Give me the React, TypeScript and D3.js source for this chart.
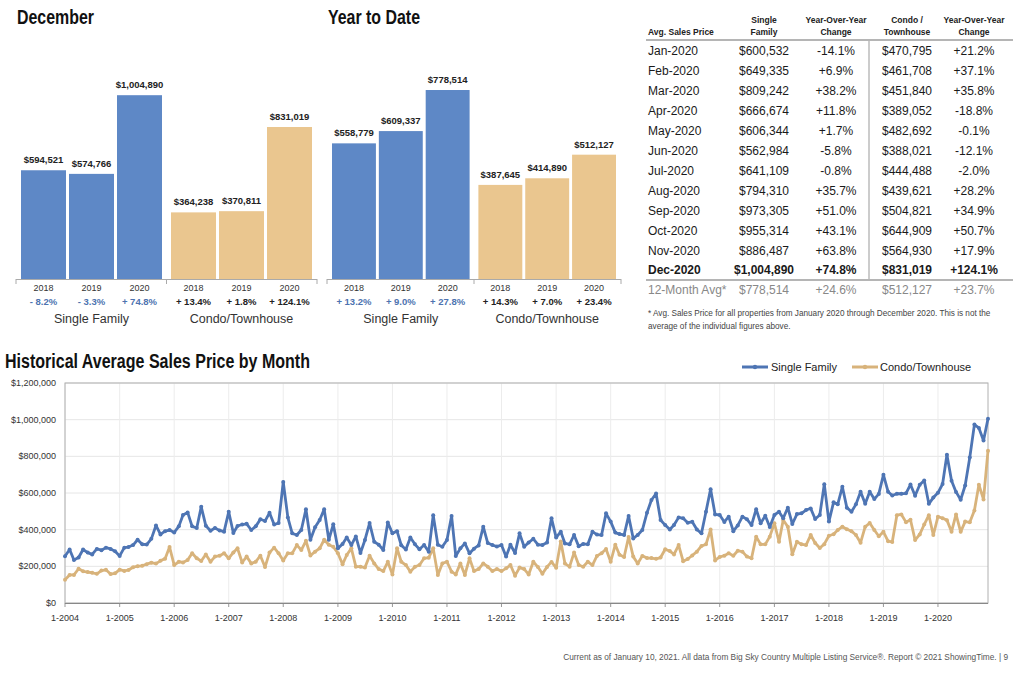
import React from 'react';
import * as d3 from 'd3';

// ---- bar panels ----
const years = ['2018', '2019', '2020'];
const groups = ['Single Family', 'Condo/Townhouse'];

const decSingle = [594521, 574766, 1004890];
const decCondo = [364238, 370811, 831019];
const decSingleChg = ['- 8.2%', '- 3.3%', '+ 74.8%'];
const decCondoChg = ['+ 13.4%', '+ 1.8%', '+ 124.1%'];

const ytdSingle = [558779, 609337, 778514];
const ytdCondo = [387645, 414890, 512127];
const ytdSingleChg = ['+ 13.2%', '+ 9.0%', '+ 27.8%'];
const ytdCondoChg = ['+ 14.3%', '+ 7.0%', '+ 23.4%'];

// ---- table ----
const tableMonths = ['Jan-2020', 'Feb-2020', 'Mar-2020', 'Apr-2020', 'May-2020', 'Jun-2020',
  'Jul-2020', 'Aug-2020', 'Sep-2020', 'Oct-2020', 'Nov-2020', 'Dec-2020'];
const tableSingle = [600532, 649335, 809242, 666674, 606344, 562984, 641109, 794310, 973305, 955314, 886487, 1004890];
const tableSingleChg = ['-14.1%', '+6.9%', '+38.2%', '+11.8%', '+1.7%', '-5.8%', '-0.8%', '+35.7%', '+51.0%', '+43.1%', '+63.8%', '+74.8%'];
const tableCondo = [470795, 461708, 451840, 389052, 482692, 388021, 444488, 439621, 504821, 644909, 564930, 831019];
const tableCondoChg = ['+21.2%', '+37.1%', '+35.8%', '-18.8%', '-0.1%', '-12.1%', '-2.0%', '+28.2%', '+34.9%', '+50.7%', '+17.9%', '+124.1%'];
const avgRow = ['12-Month Avg*', 778514, '+24.6%', 512127, '+23.7%'];

// ---- historical monthly averages, $ thousands, Jan-2004 .. Dec-2020 ----
const histSingle = [
  255, 292, 235, 248, 292, 275, 265, 295, 288, 302, 295, 282,
  257, 302, 305, 316, 345, 320, 319, 350, 423, 374, 392, 398,
  385, 418, 480, 494, 418, 409, 525, 421, 394, 409, 396, 389,
  498, 382, 420, 428, 432, 398, 418, 457, 447, 492, 428, 436,
  660, 466, 380, 371, 398, 511, 345, 413, 453, 511, 345, 429,
  298, 322, 357, 316, 363, 273, 344, 436, 334, 318, 289, 439,
  380, 392, 315, 292, 357, 320, 293, 316, 280, 479, 318, 307,
  344, 475, 256, 298, 325, 271, 296, 314, 416, 327, 316, 308,
  316, 253, 318, 273, 380, 307, 330, 350, 318, 316, 330, 462,
  357, 389, 325, 320, 371, 309, 322, 320, 389, 373, 371, 489,
  444, 384, 376, 371, 475, 352, 371, 398, 492, 562, 597, 453,
  425, 401, 425, 467, 462, 438, 443, 401, 380, 498, 621, 483,
  480, 442, 471, 392, 423, 471, 457, 425, 512, 435, 476, 415,
  480, 498, 462, 520, 431, 485, 489, 507, 516, 458, 480, 648,
  444, 549, 538, 634, 520, 498, 538, 607, 542, 607, 567, 595,
  699, 607, 586, 596, 596, 598, 646, 585, 645, 668, 541, 575,
  601, 649, 809, 667, 606, 563, 641, 794, 973, 955, 886, 1005,
];
const histCondo = [
  127, 153, 153, 187, 173, 169, 165, 159, 177, 181, 158, 162,
  182, 175, 180, 195, 201, 203, 212, 220, 215, 230, 242, 305,
  207, 225, 221, 234, 271, 244, 229, 265, 225, 253, 258, 271,
  244, 276, 298, 221, 253, 216, 225, 258, 196, 275, 302, 271,
  232, 271, 271, 316, 289, 339, 259, 280, 298, 345, 318, 307,
  271, 211, 262, 298, 198, 198, 193, 258, 216, 185, 174, 225,
  156, 298, 225, 207, 171, 198, 207, 244, 247, 298, 153, 216,
  225, 171, 156, 216, 153, 244, 174, 185, 216, 198, 174, 185,
  174, 189, 207, 149, 193, 185, 156, 225, 196, 159, 197, 224,
  192, 336, 215, 198, 275, 207, 198, 225, 207, 257, 271, 294,
  225, 318, 263, 251, 360, 253, 216, 257, 245, 245, 241, 248,
  293, 283, 265, 316, 228, 240, 259, 280, 311, 320, 401, 232,
  251, 258, 271, 258, 285, 280, 253, 244, 362, 320, 320, 362,
  435, 334, 453, 416, 266, 334, 321, 316, 371, 327, 300, 321,
  367, 375, 398, 416, 402, 392, 371, 329, 416, 436, 398, 364,
  388, 337, 333, 479, 483, 441, 454, 343, 374, 428, 479, 371,
  471, 462, 452, 389, 483, 388, 444, 440, 505, 645, 565, 831,
];

const FONT = "'Liberation Sans', Arial, Helvetica, sans-serif";
const TITLE_FONT = "'Liberation Sans Narrow', 'Liberation Sans', Arial, sans-serif";
const BLUE_BAR = '#5E88C6';
const TAN_BAR = '#EAC68F';
const BLUE = '#4E75B4';
const TAN = '#D8B37B';
const money = d3.format('$,.0f');

// condensed bold heading: the narrow face is squeezed to the width it has in the report
const Title = ({ x, y, width, children }: { x: number; y: number; width: number; children: string }) => (
  <text x={x} y={y} fontFamily={TITLE_FONT} fontWeight="bold" fontSize={20} fill="#111"
    textLength={width} lengthAdjust="spacingAndGlyphs">{children}</text>
);

interface PanelProps {
  title: string;
  titleX: number;
  titleW: number;
  x0: number;
  x1: number;
  yMax: number;
  yTop: number;
  single: number[];
  condo: number[];
  singleChg: string[];
  condoChg: string[];
}

const BarPanel = ({ title, titleX, titleW, x0, x1, yMax, yTop, single, condo, singleChg, condoChg }: PanelProps) => {
  const base = 279;
  const gx = d3.scaleBand().domain(groups).range([x0, x1]).paddingInner(0.06);
  const ix = d3.scaleBand().domain(years).range([0, gx.bandwidth()]).paddingInner(0.0625);
  const y = d3.scaleLinear().domain([0, yMax]).range([base, yTop]);
  const series = [
    { g: groups[0], vals: single, chg: singleChg, fill: BLUE_BAR, chgFill: '#4D73B0' },
    { g: groups[1], vals: condo, chg: condoChg, fill: TAN_BAR, chgFill: '#222' },
  ];
  const mid = (gx(groups[0])! + gx.bandwidth() + gx(groups[1])!) / 2;
  return (
    <g>
      <Title x={titleX} y={24} width={titleW}>{title}</Title>
      {series.map((s) => (
        <g key={s.g}>
          {years.map((yr, i) => {
            const bx = gx(s.g)! + ix(yr)!;
            const cx = bx + ix.bandwidth() / 2;
            return (
              <g key={yr}>
                <rect x={bx} y={y(s.vals[i])} width={ix.bandwidth()} height={base - y(s.vals[i])} fill={s.fill} />
                <text x={cx} y={y(s.vals[i]) - 7} textAnchor="middle" fontSize={9.5} fontWeight="bold" fill="#222">{money(s.vals[i])}</text>
                <text x={cx} y={290.5} textAnchor="middle" fontSize={9} fill="#333">{yr}</text>
                <text x={cx} y={304.5} textAnchor="middle" fontSize={9.5} fontWeight="bold" fill={s.chgFill}>{s.chg[i]}</text>
              </g>
            );
          })}
          <text x={gx(s.g)! + gx.bandwidth() / 2} y={323} textAnchor="middle" fontSize={12.5} fill="#333">{s.g}</text>
        </g>
      ))}
      <line x1={x0 - 5} x2={x1 + 5} y1={base + 0.5} y2={base + 0.5} stroke="#aaa" />
      {[x0 - 5, mid, x1 + 5].map((t) => (
        <line key={t} x1={t} x2={t} y1={base} y2={base + 5} stroke="#aaa" />
      ))}
    </g>
  );
};

const SalesTable = () => {
  const rowY = (i: number) => 50.7 + i * 19.95;
  const cols = [764, 836, 907, 974];
  return (
    <g fontFamily={FONT}>
      <g fontSize={8.5} fontWeight="bold" fill="#222">
        <text x={648} y={35}>Avg. Sales Price</text>
        <text x={cols[0]} y={23} textAnchor="middle">Single</text>
        <text x={cols[0]} y={35} textAnchor="middle">Family</text>
        <text x={cols[1]} y={23} textAnchor="middle">Year-Over-Year</text>
        <text x={cols[1]} y={35} textAnchor="middle">Change</text>
        <text x={cols[2]} y={23} textAnchor="middle">Condo /</text>
        <text x={cols[2]} y={35} textAnchor="middle">Townhouse</text>
        <text x={cols[3]} y={23} textAnchor="middle">Year-Over-Year</text>
        <text x={cols[3]} y={35} textAnchor="middle">Change</text>
      </g>
      <line x1={646} x2={1013} y1={40} y2={40} stroke="#b5b5b5" strokeWidth={2} />
      <line x1={869} x2={869} y1={41} y2={279} stroke="#999" />
      {tableMonths.map((m, i) => {
        const bold = i === tableMonths.length - 1 ? 'bold' : 'normal';
        const yy = rowY(i) + 4.3;
        return (
          <g key={m} fontSize={12} fill="#1a1a1a" fontWeight={bold}>
            <text x={648} y={yy}>{m}</text>
            <text x={cols[0]} y={yy} textAnchor="middle">{money(tableSingle[i])}</text>
            <text x={cols[1]} y={yy} textAnchor="middle">{tableSingleChg[i]}</text>
            <text x={cols[2]} y={yy} textAnchor="middle">{money(tableCondo[i])}</text>
            <text x={cols[3]} y={yy} textAnchor="middle">{tableCondoChg[i]}</text>
          </g>
        );
      })}
      <line x1={646} x2={1013} y1={280} y2={280} stroke="#b5b5b5" strokeWidth={2} />
      <g fontSize={12} fill="#888">
        <text x={648} y={294.3}>{avgRow[0]}</text>
        <text x={cols[0]} y={294.3} textAnchor="middle">{money(avgRow[1] as number)}</text>
        <text x={cols[1]} y={294.3} textAnchor="middle">{avgRow[2]}</text>
        <text x={cols[2]} y={294.3} textAnchor="middle">{money(avgRow[3] as number)}</text>
        <text x={cols[3]} y={294.3} textAnchor="middle">{avgRow[4]}</text>
      </g>
      <g fontSize={8.2} fill="#444">
        <text x={648} y={316}>* Avg. Sales Price for all properties from January 2020 through December 2020. This is not the</text>
        <text x={648} y={329}>average of the individual figures above.</text>
      </g>
    </g>
  );
};

const HistoryChart = () => {
  const months = d3.range(histSingle.length).map((i) => new Date(2004, i, 1));
  const x = d3.scaleTime().domain([months[0], months[months.length - 1]]).range([65, 988]);
  const y = d3.scaleLinear().domain([0, 1200000]).range([603, 383]);
  const yTicks = d3.range(0, 1200001, 200000);
  const xTicks = x.ticks(d3.timeYear.every(1)!);
  const fmtX = d3.timeFormat('%-m-%Y');
  const line = d3.line<number>().x((_, i) => x(months[i])).y((v) => y(v * 1000));
  const series = [
    { key: 'Condo/Townhouse', vals: histCondo, color: TAN },
    { key: 'Single Family', vals: histSingle, color: BLUE },
  ];
  return (
    <g fontFamily={FONT}>
      <Title x={5} y={368} width={305}>Historical Average Sales Price by Month</Title>
      {yTicks.map((t) => (
        <g key={t}>
          <line x1={65} x2={988} y1={y(t)} y2={y(t)} stroke="#e6e6e6" />
          <text x={56} y={y(t) + 3} textAnchor="end" fontSize={9} fill="#333">{d3.format('$,')(t)}</text>
        </g>
      ))}
      {xTicks.map((t) => (
        <g key={t.getTime()}>
          <line x1={x(t)} x2={x(t)} y1={383} y2={603} stroke="#ececec" />
          <line x1={x(t)} x2={x(t)} y1={603} y2={607} stroke="#999" />
          <text x={x(t)} y={621} textAnchor="middle" fontSize={9} fill="#333">{fmtX(t)}</text>
        </g>
      ))}
      <rect x={65} y={383} width={923} height={220} fill="none" stroke="#b0b0b0" />
      <line x1={65} x2={988} y1={603.5} y2={603.5} stroke="#888" />
      {series.map((s) => (
        <g key={s.key}>
          <path d={line(s.vals) || ''} fill="none" stroke={s.color} strokeWidth={2.8} strokeLinejoin="round" />
          {s.vals.map((v, i) => (
            <circle key={i} cx={x(months[i])} cy={y(v * 1000)} r={2} fill={s.color} />
          ))}
        </g>
      ))}
      <g fontSize={11} fill="#222">
        <line x1={742} x2={768} y1={367} y2={367} stroke={BLUE} strokeWidth={3} />
        <circle cx={755} cy={367} r={2.2} fill={BLUE} />
        <text x={771} y={371}>Single Family</text>
        <line x1={852} x2={878} y1={367} y2={367} stroke={TAN} strokeWidth={3} />
        <circle cx={865} cy={367} r={2.2} fill={TAN} />
        <text x={880} y={371}>Condo/Townhouse</text>
      </g>
    </g>
  );
};

export default function App() {
  return (
    <svg width={1024} height={673} style={{ position: 'absolute', left: 0, top: 0, background: '#fff' }} fontFamily={FONT}>
      <rect width={1024} height={673} fill="#fff" />
      <BarPanel title="December" titleX={17} titleW={77} x0={21} x1={312} yMax={1100000} yTop={77.8}
        single={decSingle} condo={decCondo} singleChg={decSingleChg} condoChg={decCondoChg} />
      <BarPanel title="Year to Date" titleX={328} titleW={92} x0={332} x1={616} yMax={800000} yTop={84.8}
        single={ytdSingle} condo={ytdCondo} singleChg={ytdSingleChg} condoChg={ytdCondoChg} />
      <SalesTable />
      <HistoryChart />
      <text x={1008} y={660} textAnchor="end" fontSize={8.3} fill="#555">
        Current as of January 10, 2021. All data from Big Sky Country Multiple Listing Service®. Report © 2021 ShowingTime.  |  9
      </text>
    </svg>
  );
}
